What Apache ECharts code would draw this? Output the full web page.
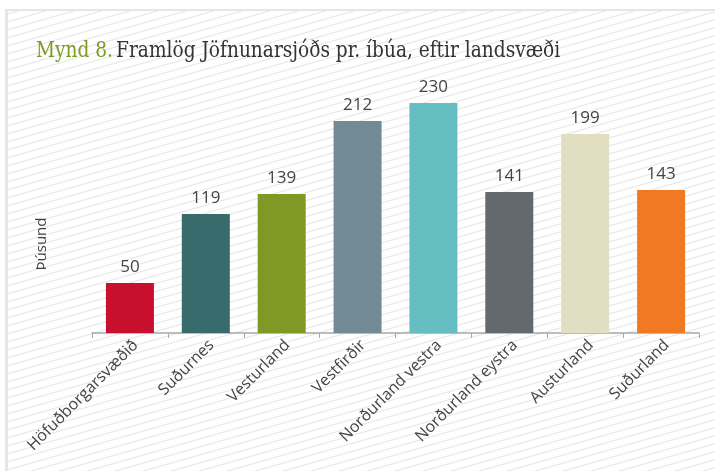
<!DOCTYPE html>
<html><head><meta charset="utf-8">
<script src="https://cdn.jsdelivr.net/npm/echarts@6/dist/echarts.min.js"></script>
<style>html,body{margin:0;padding:0;background:#fff}#c{width:715px;height:471px}</style>
</head><body><div id="c"></div>
<script>
var categories = ['Höfuðborgarsvæðið','Suðurnes','Vesturland','Vestfirðir','Norðurland vestra','Norðurland eystra','Austurland','Suðurland'];
var values = [50,119,139,212,230,141,199,143];
var barColors = ['#c8102e','#386b6c','#7f9a24','#728a94','#65bec2','#63696d','#e2dec2','#f07a22'];
var titleLead = 'Mynd 8.';
var titleText = 'Framlög Jöfnunarsjóðs pr. íbúa, eftir landsvæði';

function hatch(){
  var cv = document.createElement('canvas');
  cv.width = 28; cv.height = 8;
  var ctx = cv.getContext('2d');
  ctx.fillStyle = '#ffffff'; ctx.fillRect(0,0,28,8);
  ctx.strokeStyle = '#e5e5e5'; ctx.lineWidth = 1.1;
  for (var k=-1;k<=2;k++){
    ctx.beginPath(); ctx.moveTo(-1, 8*k + 8 + 8/28); ctx.lineTo(29, 8*k - 8/28); ctx.stroke();
  }
  return cv;
}
var TF = 'DejaVu Serif Condensed', TS = 22;
var mc = document.createElement('canvas').getContext('2d');
mc.font = TS + 'px "' + TF + '"';
var fullW = mc.measureText(titleLead + ' ' + titleText).width;
var sx = 527 / fullW;

var chart = echarts.init(document.getElementById('c'));
chart.setOption({
  backgroundColor: '#ffffff',
  animation: false,
  graphic: [
    {type:'rect', shape:{x:8,y:11,width:707,height:460}, style:{fill:{image:hatch(), repeat:'repeat'}}, silent:true, z:-10},
    {type:'rect', shape:{x:5,y:9,width:710,height:2}, style:{fill:'#e6e6e6'}, z:-9},
    {type:'rect', shape:{x:5,y:9,width:3,height:462}, style:{fill:'#e6e6e6'}, z:-9},
    {type:'text', x:36, y:62, scaleX:sx, style:{
      text:'{g|' + titleLead + '} {d|' + titleText + '}', verticalAlign:'bottom',
      rich:{g:{fill:'#7d9a22',fontFamily:TF,fontSize:TS},
            d:{fill:'#333333',fontFamily:TF,fontSize:TS}}
    }},
    {type:'text', x:34, y:244, rotation:Math.PI/2, style:{text:'Þúsund', fill:'#444', fontFamily:'Open Sans', fontSize:15, align:'center', verticalAlign:'top'}}
  ],
  grid: {left:92, right:16, top:83, bottom:138},
  xAxis: {
    type:'category', data:categories,
    axisLine:{lineStyle:{color:'#a8a8a8', width:1.5}},
    axisTick:{show:true, length:5, lineStyle:{color:'#a8a8a8'}},
    axisLabel:{rotate:45, interval:0, color:'#444', fontFamily:'Open Sans', fontSize:16, margin:4, verticalAlign:'top'}
  },
  yAxis: {type:'value', min:0, max:250, show:false, splitLine:{show:false}},
  series: [{
    type:'bar', data:values, barWidth:48,
    itemStyle:{color:function(p){return barColors[p.dataIndex];}},
    label:{show:true, position:'top', distance:7, color:'#444', fontFamily:'Open Sans', fontSize:17}
  }]
});
</script></body></html>
